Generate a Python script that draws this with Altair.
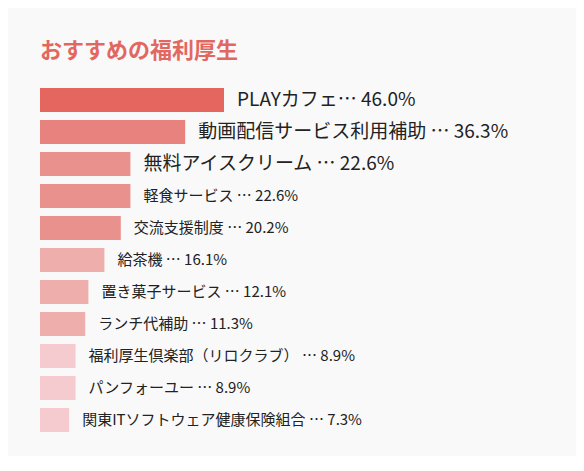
import pandas as pd
import altair as alt

# おすすめの福利厚生 (%)
names = [
    "PLAYカフェ",
    "動画配信サービス利用補助",
    "無料アイスクリーム",
    "軽食サービス",
    "交流支援制度",
    "給茶機",
    "置き菓子サービス",
    "ランチ代補助",
    "福利厚生倶楽部（リロクラブ）",
    "パンフォーユー",
    "関東ITソフトウェア健康保険組合",
]
values = [46.0, 36.3, 22.6, 22.6, 20.2, 16.1, 12.1, 11.3, 8.9, 8.9, 7.3]
separators = ["… ", " … ", " … ", " … ", "  … ", " … ", " … ", " … ", "  … ", " … ", " … "]
groups = ["A", "B", "C", "C", "C", "D", "D", "D", "E", "E", "E"]
group_colors = ["#e4665f", "#e8827e", "#e9928d", "#eeaeab", "#f5cbcf"]

FONT = "'Noto Sans CJK JP', sans-serif"

df = pd.DataFrame({"name": names, "value": values, "sep": separators, "group": groups})
df["label"] = df["name"] + df["sep"] + df["value"].map("{:.1f}%".format)
df["top3"] = df.index < 3

y = alt.Y("name:N", sort=names, axis=None,
          scale=alt.Scale(paddingInner=0.25, paddingOuter=0.125))
x = alt.X("value:Q", axis=None, scale=alt.Scale(domain=[0, 125]))

bars = alt.Chart(df).mark_bar().encode(
    x=x,
    y=y,
    color=alt.Color("group:N", legend=None,
                    scale=alt.Scale(domain=["A", "B", "C", "D", "E"], range=group_colors)),
)

labels = alt.Chart(df).mark_text(
    align="left", baseline="middle", dx=13, font=FONT, color="#222222"
).encode(
    x=x,
    y=y,
    text="label:N",
    size=alt.condition("datum.top3", alt.value(19), alt.value(15)),
)

chart = (bars + labels).properties(
    width=500,
    height=352,
    padding={"left": 32, "top": 32, "right": 36, "bottom": 20},
    background="#f9f9f9",
    title=alt.Title("おすすめの福利厚生", anchor="start", fontSize=22, fontWeight="bold",
                    color="#e2685f", font=FONT, offset=21),
).configure_view(stroke=None)

chart.save("out.html", embed_options={"renderer": "svg", "actions": False})
